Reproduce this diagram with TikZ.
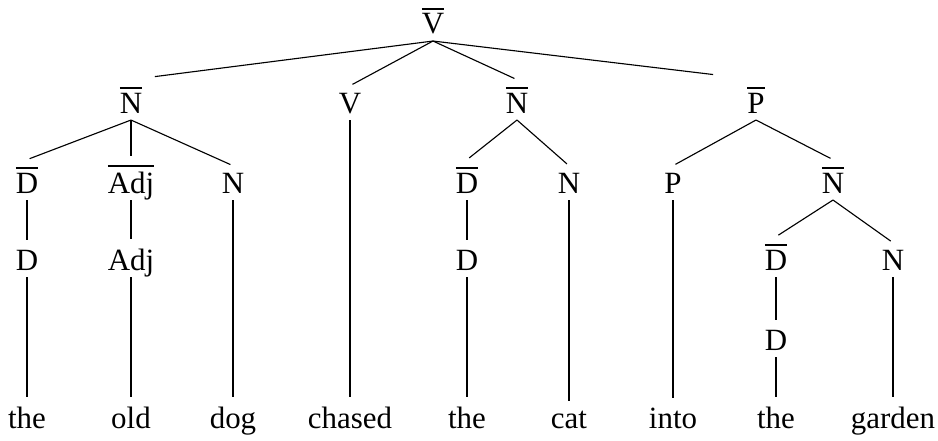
\documentclass[tikz,border=0pt]{standalone}
\usepackage{fontspec}
\setmainfont{Liberation Serif}

\tikzset{
  catNode/.style={anchor=base, inner sep=0pt, outer ysep=5pt, text depth=0pt,
    font=\fontsize{22}{26}\selectfont},
  wordNode/.style={catNode},
  branch/.style={line width=0.8pt, shorten >=2pt}
}
\newcommand{\barCat}[1]{\setbox0\hbox{#1}%
  \rlap{\rule[\dimexpr\ht0+3pt\relax]{\wd0}{1.3pt}}\box0}

\begin{document}
\begin{tikzpicture}[x=0.025cm,y=-0.025cm]
  \useasboundingbox (0,0) rectangle (938,440);
  % Categories
  \node[catNode] (vbar) at (433,34) {\barCat{V}};
  \node[catNode] (nbarA) at (131,113) {\barCat{N}};
  \node[catNode] (v) at (350,113) {V};
  \node[catNode] (nbarB) at (517,113) {\barCat{N}};
  \node[catNode] (pbar) at (756,113) {\barCat{P}};
  \node[catNode] (dbarA) at (27,193) {\barCat{D}};
  \node[catNode] (adjbar) at (131,193) {\barCat{Adj}};
  \node[catNode] (nA) at (233,193) {N};
  \node[catNode] (dbarB) at (467,193) {\barCat{D}};
  \node[catNode] (nB) at (569,193) {N};
  \node[catNode] (p) at (673,193) {P};
  \node[catNode] (nbarC) at (833,193) {\barCat{N}};
  \node[catNode] (dA) at (27,270) {D};
  \node[catNode] (adj) at (131,270) {Adj};
  \node[catNode] (dB) at (467,270) {D};
  \node[catNode] (dbarC) at (776,270) {\barCat{D}};
  \node[catNode] (nC) at (893,270) {N};
  \node[catNode] (dC) at (776,350) {D};
  % Words
  \node[wordNode] (the1) at (27,428) {the};
  \node[wordNode] (old) at (131,428) {old};
  \node[wordNode] (dog) at (233,428) {dog};
  \node[wordNode] (chased) at (350,428) {chased};
  \node[wordNode] (the2) at (467,428) {the};
  \node[wordNode] (cat) at (569,428) {cat};
  \node[wordNode] (into) at (673,428) {into};
  \node[wordNode] (the3) at (776,428) {the};
  \node[wordNode] (garden) at (893,428) {garden};
  % Branches
  \draw[branch, shorten >=0.6cm] (vbar.south) -- (nbarA.north);
  \draw[branch] (vbar.south) -- (v.north);
  \draw[branch] (vbar.south) -- (nbarB.north);
  \draw[branch, shorten >=1.08cm] (vbar.south) -- (pbar.north);
  \draw[branch] (nbarA.south) -- (dbarA.north);
  \draw[branch] (nbarA.south) -- (adjbar.north);
  \draw[branch] (nbarA.south) -- (nA.north);
  \draw[branch] (nbarB.south) -- (dbarB.north);
  \draw[branch] (nbarB.south) -- (nB.north);
  \draw[branch] (pbar.south) -- (p.north);
  \draw[branch] (pbar.south) -- (nbarC.north);
  \draw[branch] (nbarC.south) -- (dbarC.north);
  \draw[branch] (nbarC.south) -- (nC.north);
  \draw[branch] (dbarA.south) -- (dA.north);
  \draw[branch] (adjbar.south) -- (adj.north);
  \draw[branch] (dbarB.south) -- (dB.north);
  \draw[branch] (dbarC.south) -- (dC.north);
  \draw[branch] (dA.south) -- (the1.north);
  \draw[branch] (adj.south) -- (old.north);
  \draw[branch] (nA.south) -- (dog.north);
  \draw[branch] (v.south) -- (chased.north);
  \draw[branch] (dB.south) -- (the2.north);
  \draw[branch] (nB.south) -- (cat.north);
  \draw[branch] (p.south) -- (into.north);
  \draw[branch] (dC.south) -- (the3.north);
  \draw[branch] (nC.south) -- (garden.north);
\end{tikzpicture}
\end{document}
